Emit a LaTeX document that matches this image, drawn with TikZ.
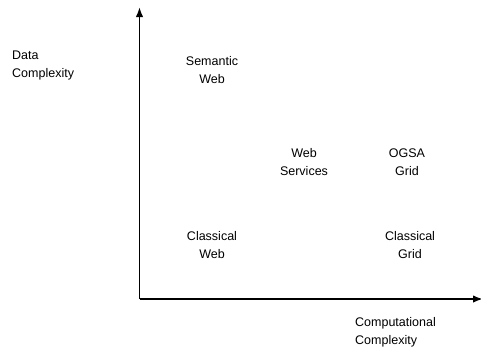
\documentclass[tikz,border=0pt]{standalone}
\usepackage{fontspec}
\setmainfont{Liberation Sans}
\usetikzlibrary{arrows.meta}

\tikzset{
  axis/.style={black,line width=1.8pt,-{Latex[length=10pt,width=7.5pt]}},
  field/.style={align=center,inner sep=0pt,font=\fontsize{12.5}{18}\selectfont},
  axislabel/.style={field,align=left,anchor=west}
}

\begin{document}
\begin{tikzpicture}[x=1pt,y=-1pt]
  \useasboundingbox (0,0) rectangle (481,349);
  % axes
  \coordinate (origin) at (139.5,299);
  \coordinate (ytop) at (139.5,7);
  \coordinate (xend) at (483,299);
  \draw[axis] (origin) -- (ytop);
  \draw[axis] (origin) -- (xend);
  % axis names
  \node[axislabel] (ylab) at (12,65) {Data\\Complexity};
  \node[axislabel] (xlab) at (355,332.5) {Computational\\Complexity};
  % fields in the plane
  \node[field] (semweb) at (212,70.5) {Semantic\\Web};
  \node[field] (websvc) at (304,162) {Web\\Services};
  \node[field] (ogsa) at (407,162) {OGSA\\Grid};
  \node[field] (clweb) at (212,245) {Classical\\Web};
  \node[field] (clgrid) at (410,245) {Classical\\Grid};
\end{tikzpicture}
\end{document}
